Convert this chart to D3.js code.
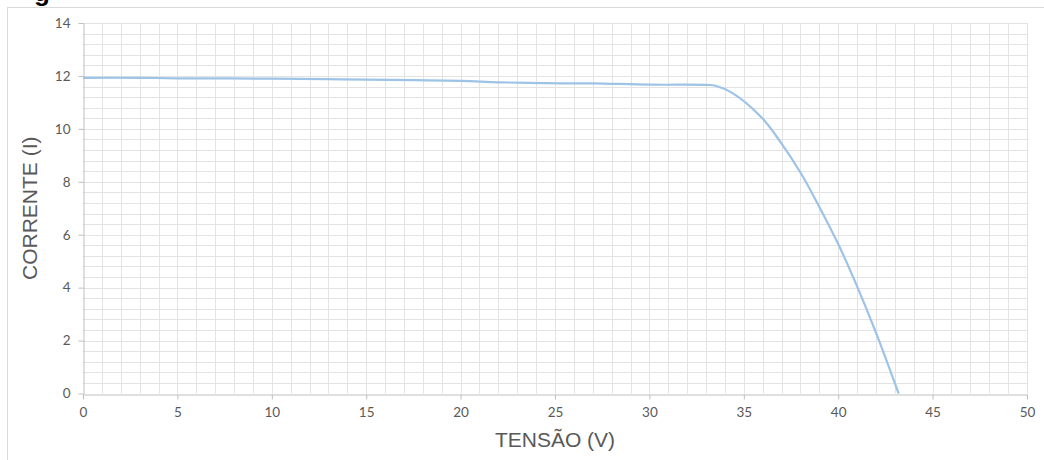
<!DOCTYPE html>
<html>
<head>
<meta charset="utf-8">
<script src="https://cdn.jsdelivr.net/npm/d3@7"></script>
<style>
  body { margin: 0; background: #fff; }
  svg { display: block; }
</style>
</head>
<body>
<div id="chart"></div>
<script>
// I-V curve
var tensao = [0, 3, 5, 10, 12.9, 15, 20, 22, 25.3, 27, 30, 33, 33.5, 34.4, 35.9, 36.9, 38, 39, 40, 41, 42, 43.2];
var corrente = [11.93, 11.93, 11.91, 11.9, 11.88, 11.86, 11.81, 11.76, 11.72, 11.72, 11.67, 11.66, 11.63, 11.35, 10.46, 9.55, 8.35, 7.05, 5.65, 4.05, 2.3, 0];

var xTicks = [0, 5, 10, 15, 20, 25, 30, 35, 40, 45, 50];
var yTicks = [0, 2, 4, 6, 8, 10, 12, 14];

var xTitle = 'TENSÃO (V)';
var yTitle = 'CORRENTE (I)';

var W = 1044, H = 460;
var m = { left: 83, right: 17, top: 23, bottom: 66.5 };

var svg = d3.select('#chart').append('svg')
    .attr('width', W)
    .attr('height', H);

// cut-off caption from the page above the chart
svg.append('text')
    .attr('x', 34).attr('y', 1)
    .attr('font-family', 'Liberation Sans, Arial, sans-serif')
    .attr('font-weight', 'bold')
    .attr('font-size', 26)
    .attr('fill', '#000')
    .text('g');

// chart frame (runs off the right and bottom edge)
svg.append('rect')
    .attr('x', 7.5).attr('y', 7.5)
    .attr('width', W).attr('height', H)
    .attr('fill', 'none')
    .attr('stroke', '#d9d9d9');

var x = d3.scaleLinear().domain([0, 50]).range([m.left, W - m.right]);
var y = d3.scaleLinear().domain([0, 14]).range([H - m.bottom, m.top]);

// minor grid: every 1 V and every 0.4 A
var grid = svg.append('g').attr('stroke', '#e3e3e3').attr('stroke-width', 1);
grid.selectAll('line.vx')
    .data(d3.range(1, 51))
    .enter().append('line')
    .attr('x1', d => Math.round(x(d)) + 0.5).attr('x2', d => Math.round(x(d)) + 0.5)
    .attr('y1', y(0)).attr('y2', y(14));
grid.selectAll('line.hy')
    .data(d3.range(1, 36).map(i => i * 0.4))
    .enter().append('line')
    .attr('x1', x(0)).attr('x2', x(50))
    .attr('y1', d => Math.round(y(d)) + 0.5).attr('y2', d => Math.round(y(d)) + 0.5);

// axes
var xAxis = svg.append('g')
    .attr('transform', 'translate(0,' + (Math.round(y(0)) + 0.5) + ')')
    .call(d3.axisBottom(x).tickValues(xTicks).tickSize(5).tickPadding(8).tickSizeOuter(0));
var yAxis = svg.append('g')
    .attr('transform', 'translate(' + (Math.round(x(0)) + 0.5) + ',0)')
    .call(d3.axisLeft(y).tickValues(yTicks).tickSize(5).tickPadding(8).tickSizeOuter(0));

[xAxis, yAxis].forEach(function(a) {
    a.select('.domain').attr('stroke', '#bfbfbf');
    a.selectAll('.tick line').attr('stroke', '#bfbfbf');
    a.selectAll('.tick text')
        .attr('fill', '#595959')
        .attr('font-family', 'Lato, Carlito, sans-serif')
        .attr('font-size', 13.5);
});

// curve (smoothed like the spreadsheet's line)
var pts = tensao.map((v, i) => [v, corrente[i]]);
svg.append('path')
    .datum(pts)
    .attr('fill', 'none')
    .attr('stroke', '#9dc3e6')
    .attr('stroke-width', 2.2)
    .attr('d', d3.line().x(d => x(d[0])).y(d => y(d[1])).curve(d3.curveCatmullRom.alpha(0.5)));

// titles
svg.append('text')
    .attr('x', (x(0) + x(50)) / 2)
    .attr('y', 447)
    .attr('text-anchor', 'middle')
    .attr('font-family', 'Liberation Sans, Arial, sans-serif')
    .attr('font-size', 21)
    .attr('fill', '#595959')
    .text(xTitle);

svg.append('text')
    .attr('transform', 'translate(37,' + ((y(0) + y(14)) / 2) + ') rotate(-90)')
    .attr('text-anchor', 'middle')
    .attr('font-family', 'Liberation Sans, Arial, sans-serif')
    .attr('font-size', 21)
    .attr('fill', '#595959')
    .text(yTitle);
</script>
</body>
</html>
